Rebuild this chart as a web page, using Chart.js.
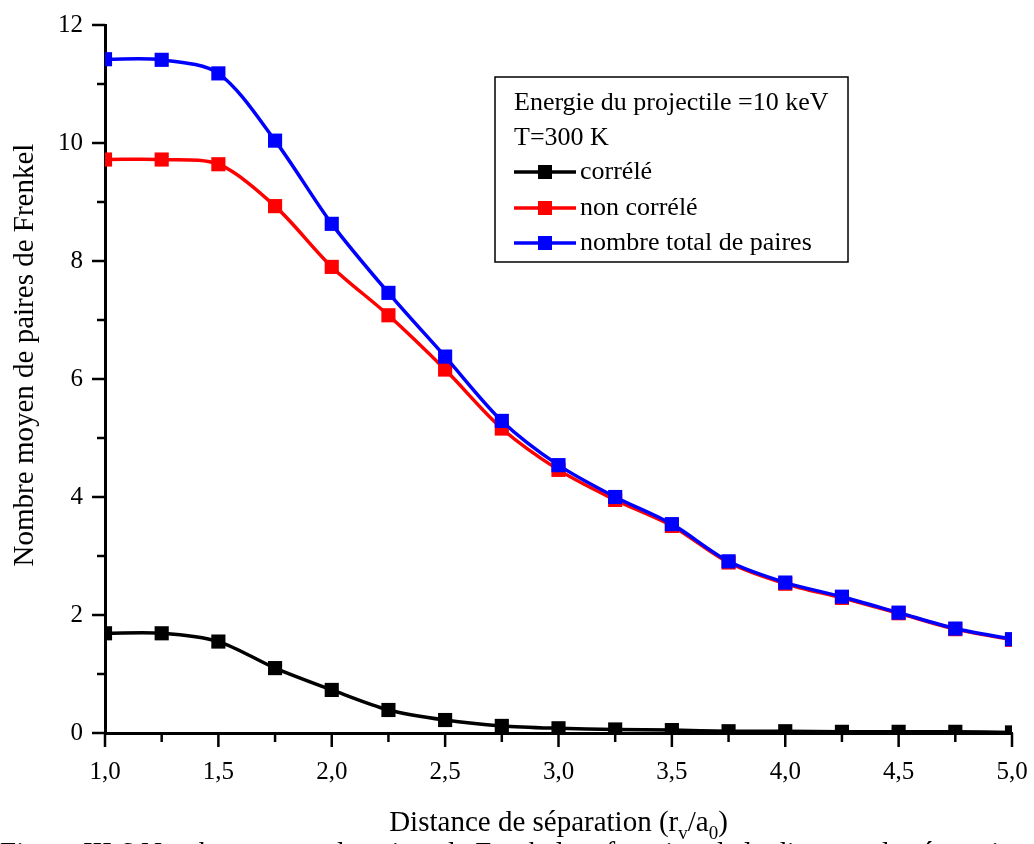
<!DOCTYPE html>
<html>
<head>
<meta charset="utf-8">
<script src="https://cdn.jsdelivr.net/npm/chart.js"></script>
<style>
    html, body { margin: 0; padding: 0; background: #fff; }
    #wrap { width: 1034px; height: 844px; position: relative; overflow: hidden; }
</style>
</head>
<body>
<div id="wrap"><canvas id="myChart" width="1034" height="844"></canvas></div>

<script>
    // data
    const distances = [1.0, 1.25, 1.5, 1.75, 2.0, 2.25, 2.5, 2.75, 3.0, 3.25, 3.5, 3.75, 4.0, 4.25, 4.5, 4.75, 5.0]
    const correle = [1.69, 1.69, 1.55, 1.10, 0.73, 0.39, 0.22, 0.12, 0.08, 0.06, 0.05, 0.03, 0.03, 0.02, 0.02, 0.02, 0.01]
    const nonCorrele = [9.72, 9.72, 9.64, 8.93, 7.90, 7.08, 6.16, 5.16, 4.46, 3.95, 3.51, 2.89, 2.53, 2.29, 2.03, 1.76, 1.58]
    const totalPaires = [11.42, 11.41, 11.18, 10.04, 8.63, 7.46, 6.38, 5.29, 4.54, 4.00, 3.54, 2.91, 2.55, 2.31, 2.04, 1.77, 1.59]

    const seriesLabels = ['corrélé', 'non corrélé', 'nombre total de paires']
    const seriesColors = ['#000000', '#ff0000', '#0000ff']
    const legendHeader = ['Energie du projectile =10 keV', 'T=300 K']

    const xTitle = ['Distance de séparation (r', 'v', '/a', '0', ')']
    const yTitle = 'Nombre moyen de paires de Frenkel'
    const caption = 'Figure III.6 Nombre moyen de paires de Frenkel en fonction de la distance de séparation initiale'

    const FONT = '"Liberation Serif", "Times New Roman", serif'

    const toPoints = (ys) => distances.map((x, i) => ({ x: x, y: ys[i] }))

    // minor / major ticks, outward
    const tickPlugin = {
        id: 'ticks',
        afterDraw(chart) {
            const ctx = chart.ctx
            const xs = chart.scales.x
            const ys = chart.scales.y
            const area = chart.chartArea
            ctx.save()
            ctx.strokeStyle = '#000'
            ctx.lineWidth = 2.5
            ctx.beginPath()
            for (let v = 1.0; v <= 5.0001; v += 0.25) {
                const px = xs.getPixelForValue(v)
                const major = Math.abs(v * 2 - Math.round(v * 2)) < 1e-6
                ctx.moveTo(px, area.bottom)
                ctx.lineTo(px, area.bottom + (major ? 14 : 9))
            }
            for (let v = 0; v <= 12; v += 1) {
                const py = ys.getPixelForValue(v)
                const major = v % 2 === 0
                ctx.moveTo(area.left, py)
                ctx.lineTo(area.left - (major ? 13 : 8), py)
            }
            ctx.stroke()
            ctx.restore()
        }
    }

    // titles, legend box and caption
    const textPlugin = {
        id: 'texts',
        afterDraw(chart) {
            const ctx = chart.ctx
            const area = chart.chartArea
            ctx.save()
            ctx.fillStyle = '#000'

            // x title with subscripts
            const big = '29px ' + FONT
            const small = '19px ' + FONT
            const parts = xTitle.map((t, i) => ({ t: t, sub: i % 2 === 1 }))
            let total = 0
            parts.forEach(p => {
                ctx.font = p.sub ? small : big
                p.w = ctx.measureText(p.t).width
                total += p.w
            })
            let x = (area.left + area.right) / 2 - total / 2
            const baseY = 831
            ctx.textBaseline = 'alphabetic'
            ctx.textAlign = 'left'
            parts.forEach(p => {
                ctx.font = p.sub ? small : big
                ctx.fillText(p.t, x, p.sub ? baseY + 8 : baseY)
                x += p.w
            })

            // y title
            ctx.save()
            ctx.translate(25, 355)
            ctx.rotate(-Math.PI / 2)
            ctx.font = big
            ctx.textAlign = 'center'
            ctx.textBaseline = 'middle'
            ctx.fillText(yTitle, 0, 0)
            ctx.restore()

            // caption, cut by the page bottom
            ctx.font = big
            ctx.textAlign = 'left'
            ctx.textBaseline = 'alphabetic'
            ctx.fillText(caption, 0, 862)

            // legend box
            ctx.fillStyle = '#fff'
            ctx.fillRect(495, 77, 353, 185)
            ctx.strokeStyle = '#000'
            ctx.lineWidth = 1.5
            ctx.strokeRect(495, 77, 353, 185)
            ctx.fillStyle = '#000'
            ctx.font = '26px ' + FONT
            ctx.textBaseline = 'middle'
            ctx.fillText(legendHeader[0], 514, 103)
            ctx.fillText(legendHeader[1], 514, 138)
            const rows = [172, 208, 243]
            for (let i = 0; i < seriesLabels.length; i++) {
                const y = rows[i]
                ctx.strokeStyle = seriesColors[i]
                ctx.lineWidth = 3.5
                ctx.beginPath()
                ctx.moveTo(514, y)
                ctx.lineTo(576, y)
                ctx.stroke()
                ctx.fillStyle = seriesColors[i]
                ctx.fillRect(538, y - 7, 14, 14)
                ctx.fillStyle = '#000'
                ctx.fillText(seriesLabels[i], 580, y)
            }
            ctx.restore()
        }
    }

    const allSeries = [correle, nonCorrele, totalPaires]
    let _datasets = []
    for (let i = 0; i < allSeries.length; i++) {
        _datasets.push({
            label: seriesLabels[i],
            data: toPoints(allSeries[i]),
            borderColor: seriesColors[i],
            backgroundColor: seriesColors[i],
            borderWidth: 3.5,
            pointStyle: 'rect',
            pointRadius: 10,
            pointBorderWidth: 0,
            tension: 0.3,
            clip: 0,
            order: 3 - i
        })
    }

    const config = {
        type: 'line',
        data: { datasets: _datasets },
        plugins: [tickPlugin, textPlugin],
        options: {
            responsive: false,
            animation: false,
            layout: { padding: { left: 0, right: 22, top: 25, bottom: 0 } },
            plugins: {
                legend: { display: false },
                tooltip: { enabled: false }
            },
            scales: {
                x: {
                    type: 'linear',
                    min: 1,
                    max: 5,
                    grid: { display: false },
                    border: { display: true, color: '#000', width: 3 },
                    ticks: {
                        stepSize: 0.5,
                        color: '#000',
                        padding: 16,
                        font: { family: FONT, size: 25 },
                        callback: (v) => v.toFixed(1).replace('.', ',')
                    },
                    afterFit: (scale) => {
                        scale.height = 111
                        scale.paddingLeft = 0
                        scale.paddingRight = 0
                    }
                },
                y: {
                    min: 0,
                    max: 12,
                    grid: { display: false },
                    border: { display: true, color: '#000', width: 3 },
                    ticks: {
                        stepSize: 2,
                        color: '#000',
                        padding: 14,
                        font: { family: FONT, size: 25 }
                    },
                    afterFit: (scale) => {
                        scale.width = 105
                        scale.paddingTop = 0
                        scale.paddingBottom = 0
                    }
                }
            }
        }
    }

    new Chart(document.getElementById('myChart'), config)
</script>
</body>
</html>
